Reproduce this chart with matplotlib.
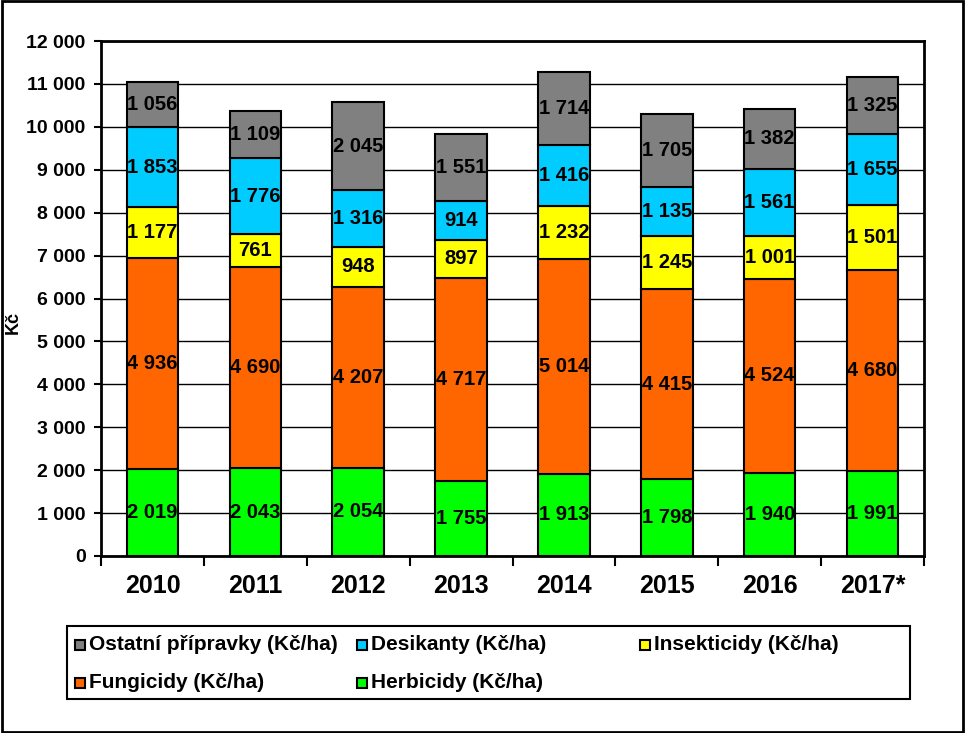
"""Stacked bar chart of pesticide costs per hectare, 2010-2017."""

import matplotlib
matplotlib.use("Agg")
import matplotlib.pyplot as plt
from matplotlib.patches import Rectangle
import numpy as np

YEARS = ["2010", "2011", "2012", "2013", "2014", "2015", "2016", "2017*"]
HERBICIDY = [2019, 2043, 2054, 1755, 1913, 1798, 1940, 1991]
FUNGICIDY = [4936, 4690, 4207, 4717, 5014, 4415, 4524, 4680]
INSEKTICIDY = [1177, 761, 948, 897, 1232, 1245, 1001, 1501]
DESIKANTY = [1853, 1776, 1316, 914, 1416, 1135, 1561, 1655]
OSTATNI = [1056, 1109, 2045, 1551, 1714, 1705, 1382, 1325]

SERIES = [
    ("Herbicidy (Kč/ha)", HERBICIDY, "#00FF00"),
    ("Fungicidy (Kč/ha)", FUNGICIDY, "#FF6600"),
    ("Insekticidy (Kč/ha)", INSEKTICIDY, "#FFFF00"),
    ("Desikanty (Kč/ha)", DESIKANTY, "#00CCFF"),
    ("Ostatní přípravky (Kč/ha)", OSTATNI, "#808080"),
]

plt.rcParams["font.family"] = ["Liberation Sans", "DejaVu Sans"]
plt.rcParams["font.weight"] = "bold"

W, H = 965, 733


def fmt(v):
    return f"{v:,}".replace(",", " ")


fig = plt.figure(figsize=(W / 100, H / 100), dpi=100)
ax = fig.add_axes([101 / W, 1 - 556 / H, (924 - 101) / W, (556 - 41) / H])

x = np.arange(len(YEARS))
bottom = np.zeros(len(YEARS))
colors = {}
for label, values, color in SERIES:
    vals = np.array(values, dtype=float)
    ax.bar(x, vals, width=0.5, bottom=bottom, color=color,
           edgecolor="black", linewidth=1.5, zorder=3)
    for xi, b, v in zip(x, bottom, vals):
        ax.text(xi, b + v / 2, fmt(int(v)), ha="center", va="center",
                fontsize=14.5, fontweight="bold", zorder=4)
    colors[label] = color
    bottom += vals

ax.set_xlim(-0.5, len(YEARS) - 0.5)
ax.set_ylim(0, 12000)
ax.set_yticks(np.arange(0, 12001, 1000))
ax.set_yticklabels([fmt(v) for v in range(0, 12001, 1000)], fontsize=14, fontweight="bold")
ax.yaxis.grid(True, color="black", linewidth=1.0, zorder=0)
ax.set_axisbelow(True)

ax.set_xticks(x)
ax.set_xticklabels(YEARS, fontsize=18, fontweight="bold")
ax.tick_params(axis="x", which="major", length=0, pad=13)
ax.set_xticks(np.arange(-0.5, len(YEARS), 1), minor=True)
ax.tick_params(axis="x", which="minor", length=7, width=1.5, direction="out")
ax.tick_params(axis="y", length=5, width=1.5, direction="out", pad=6)
for spine in ax.spines.values():
    spine.set_linewidth(2)

ax.set_ylabel("Kč", fontsize=13, fontweight="bold")
ax.yaxis.set_label_coords((22 - 101) / (924 - 101), (556 - 322) / (556 - 41))

# legend box laid out like the original (3 columns, 2 rows)
fig.patches.append(Rectangle((67 / W, 1 - 699 / H), (910 - 67) / W, (699 - 626) / H,
                             transform=fig.transFigure, fill=False,
                             edgecolor="black", linewidth=1.5))
legend_layout = [
    ("Ostatní přípravky (Kč/ha)", 75, 645),
    ("Desikanty (Kč/ha)", 357, 645),
    ("Insekticidy (Kč/ha)", 640, 645),
    ("Fungicidy (Kč/ha)", 75, 683),
    ("Herbicidy (Kč/ha)", 357, 683),
]
for label, px, py in legend_layout:
    fig.patches.append(Rectangle((px / W, 1 - (py + 5) / H), 10 / W, 10 / H,
                                 transform=fig.transFigure, facecolor=colors[label],
                                 edgecolor="black", linewidth=1.5))
    fig.text((px + 14) / W, 1 - py / H, label, ha="left", va="center",
             fontsize=15, fontweight="bold")

fig.patches.append(Rectangle((0.002, 0.002), 0.996, 0.996, transform=fig.transFigure,
                             fill=False, edgecolor="black", linewidth=2))

fig.savefig("out.png", dpi=100)
